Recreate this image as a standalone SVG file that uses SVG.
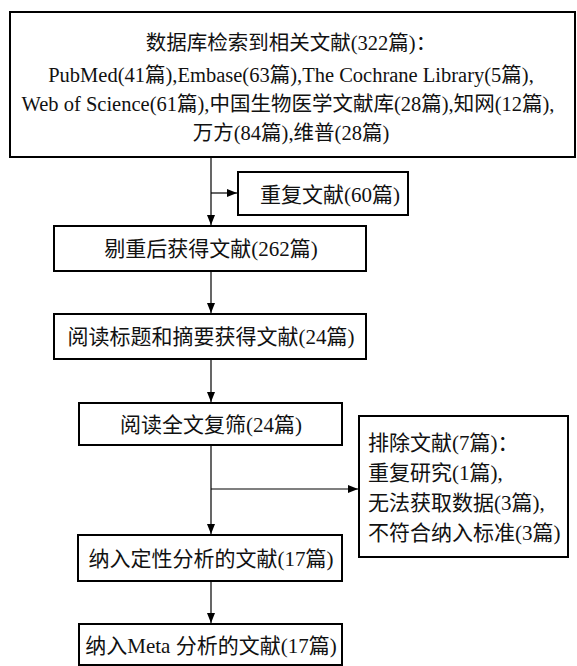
<svg xmlns="http://www.w3.org/2000/svg" width="577" height="666" viewBox="0 0 577 666">
<style>
.box{fill:#fff;stroke:#000;stroke-width:2}
.t{font-family:"Liberation Serif","Noto Sans CJK SC",serif;font-size:21px;fill:#111}
.tt{font-size:20.5px}
.c{text-anchor:middle}
.ln{stroke:#000;stroke-width:1.2;fill:none}
</style>
<defs>
<marker id="ah" viewBox="0 0 10 8" refX="10" refY="4" markerWidth="10" markerHeight="8" markerUnits="userSpaceOnUse" orient="auto">
<path d="M0,0 L10,4 L0,8 Z" fill="#000"/>
</marker>
</defs>
<rect width="577" height="666" fill="#fff"/>
<g id="connectors">
<line class="ln" x1="211" y1="158" x2="211" y2="225" marker-end="url(#ah)"/>
<line class="ln" x1="211" y1="193" x2="237" y2="193" marker-end="url(#ah)"/>
<line class="ln" x1="211" y1="272" x2="211" y2="313" marker-end="url(#ah)"/>
<line class="ln" x1="211" y1="360" x2="211" y2="402" marker-end="url(#ah)"/>
<line class="ln" x1="211" y1="446" x2="211" y2="534" marker-end="url(#ah)"/>
<line class="ln" x1="211" y1="489" x2="358" y2="489" marker-end="url(#ah)"/>
<line class="ln" x1="211" y1="582" x2="211" y2="623" marker-end="url(#ah)"/>
</g>
<g id="n1">
<rect class="box" x="10" y="12" width="565" height="145" stroke-width="2.5"/>
<text class="t tt c" x="291" y="50">数据库检索到相关文献(322篇)：</text>
<text class="t tt c" x="291" y="82">PubMed(41篇),Embase(63篇),The Cochrane Library(5篇),</text>
<text class="t tt c" x="288" y="111">Web of Science(61篇),中国生物医学文献库(28篇),知网(12篇),</text>
<text class="t tt c" x="291" y="140">万方(84篇),维普(28篇)</text>
</g>
<g id="n2">
<rect class="box" x="238" y="172" width="170" height="43"/>
<text class="t c" x="330" y="202">重复文献(60篇)</text>
</g>
<g id="n3">
<rect class="box" x="54" y="226" width="312" height="45"/>
<text class="t c" x="211" y="256">剔重后获得文献(262篇)</text>
</g>
<g id="n4">
<rect class="box" x="54" y="314" width="312" height="45"/>
<text class="t c" x="211" y="344">阅读标题和摘要获得文献(24篇)</text>
</g>
<g id="n5">
<rect class="box" x="79" y="403" width="263" height="42"/>
<text class="t c" x="211" y="432">阅读全文复筛(24篇)</text>
</g>
<g id="n6">
<rect class="box" x="359" y="416" width="209" height="141"/>
<text class="t" x="368" y="450">排除文献(7篇)：</text>
<text class="t" x="368" y="480">重复研究(1篇),</text>
<text class="t" x="368" y="510">无法获取数据(3篇),</text>
<text class="t" x="368" y="540">不符合纳入标准(3篇)</text>
</g>
<g id="n7">
<rect class="box" x="78" y="535" width="264" height="46"/>
<text class="t c" x="211" y="566">纳入定性分析的文献(17篇)</text>
</g>
<g id="n8">
<rect class="box" x="79" y="624" width="263" height="41"/>
<text class="t c" x="211" y="653">纳入Meta 分析的文献(17篇)</text>
</g>
</svg>
